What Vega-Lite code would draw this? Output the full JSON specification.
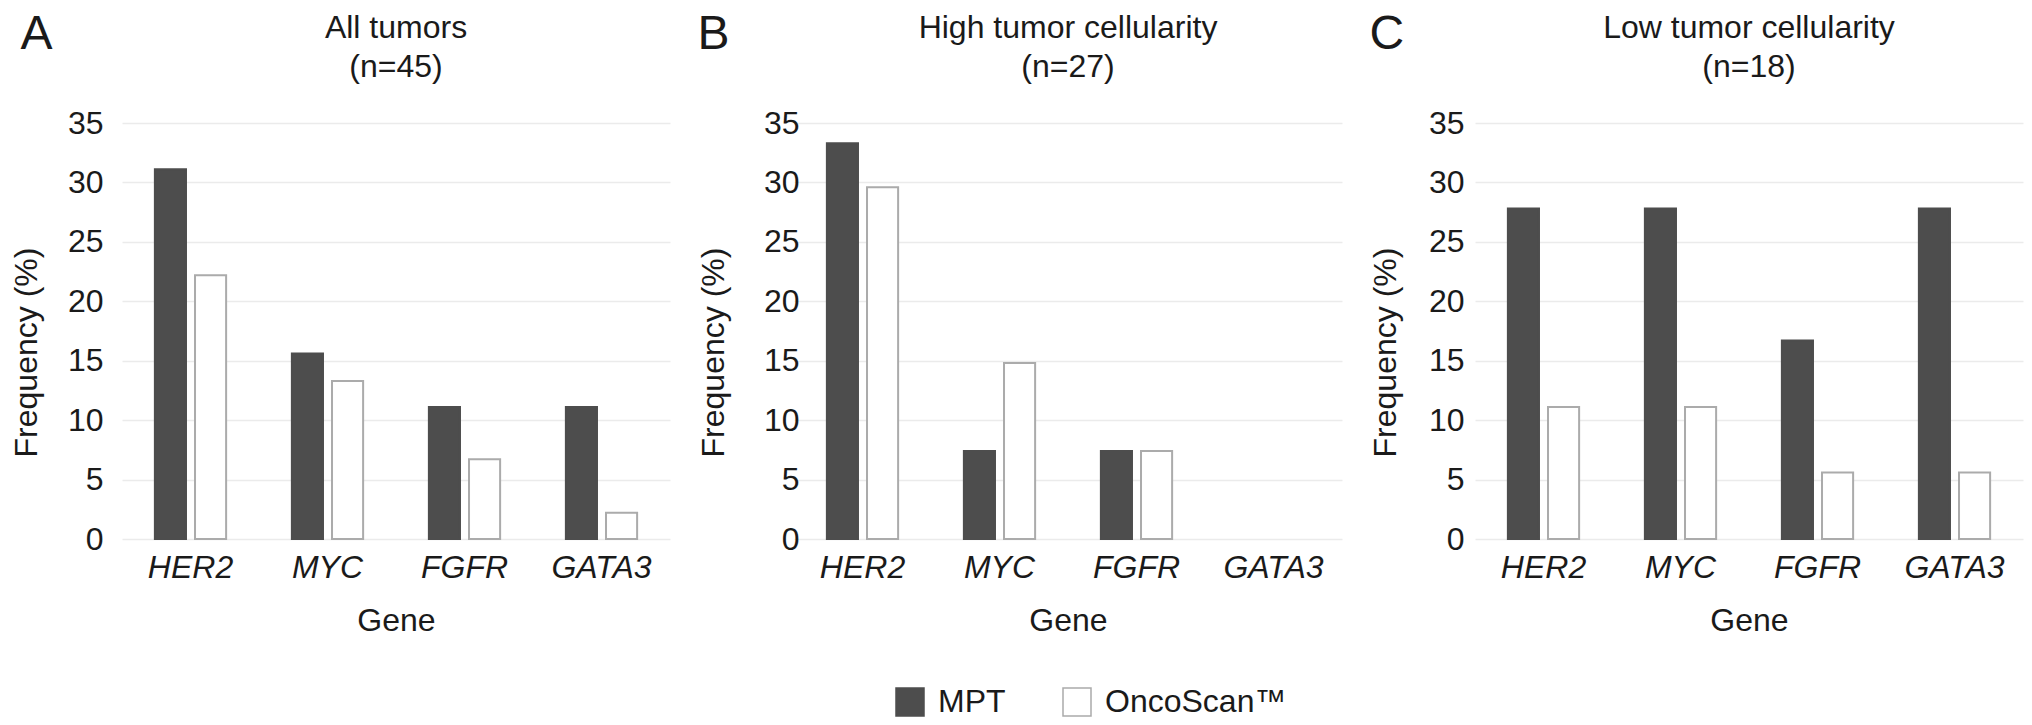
{
  "$schema": "https://vega.github.io/schema/vega-lite/v6.json",
  "background": "white",
  "padding": {"top": 11, "left": 10, "right": 5, "bottom": 5},
  "spacing": 27,
  "config": {
    "font": "Liberation Sans",
    "view": {"stroke": null},
    "axis": {
      "labelFont": "Liberation Sans",
      "titleFont": "Liberation Sans",
      "labelFontSize": 32,
      "titleFontSize": 32,
      "titleFontWeight": "normal",
      "labelColor": "#1a1a1a",
      "titleColor": "#1a1a1a",
      "ticks": false,
      "domain": false
    },
    "axisX": {"grid": false, "labelFontStyle": "italic", "labelAngle": 0, "labelPadding": 13, "titlePadding": 22},
    "axisY": {"gridColor": "#ebebeb", "gridWidth": 1.5, "titleY": 229},
    "title": {"font": "Liberation Sans", "fontWeight": "normal", "color": "#1a1a1a"},
    "legend": {
      "orient": "none",
      "legendX": 772,
      "legendY": 563,
      "direction": "horizontal",
      "title": null,
      "symbolType": "square",
      "symbolSize": 784,
      "symbolStrokeWidth": 1.5,
      "labelFont": "Liberation Sans",
      "labelFontSize": 32,
      "labelColor": "#1a1a1a",
      "labelOffset": 12,
      "labelLimit": 400,
      "columnPadding": 54
    }
  },
  "datasets": {
    "freq": [
      {"panel": "A", "gene": "HER2", "method": "MPT", "freq": 31.1},
      {"panel": "A", "gene": "HER2", "method": "OncoScan™", "freq": 22.2},
      {"panel": "A", "gene": "MYC", "method": "MPT", "freq": 15.6},
      {"panel": "A", "gene": "MYC", "method": "OncoScan™", "freq": 13.3},
      {"panel": "A", "gene": "FGFR", "method": "MPT", "freq": 11.1},
      {"panel": "A", "gene": "FGFR", "method": "OncoScan™", "freq": 6.7},
      {"panel": "A", "gene": "GATA3", "method": "MPT", "freq": 11.1},
      {"panel": "A", "gene": "GATA3", "method": "OncoScan™", "freq": 2.2},
      {"panel": "B", "gene": "HER2", "method": "MPT", "freq": 33.3},
      {"panel": "B", "gene": "HER2", "method": "OncoScan™", "freq": 29.6},
      {"panel": "B", "gene": "MYC", "method": "MPT", "freq": 7.4},
      {"panel": "B", "gene": "MYC", "method": "OncoScan™", "freq": 14.8},
      {"panel": "B", "gene": "FGFR", "method": "MPT", "freq": 7.4},
      {"panel": "B", "gene": "FGFR", "method": "OncoScan™", "freq": 7.4},
      {"panel": "B", "gene": "GATA3", "method": "MPT", "freq": 0},
      {"panel": "B", "gene": "GATA3", "method": "OncoScan™", "freq": 0},
      {"panel": "C", "gene": "HER2", "method": "MPT", "freq": 27.8},
      {"panel": "C", "gene": "HER2", "method": "OncoScan™", "freq": 11.1},
      {"panel": "C", "gene": "MYC", "method": "MPT", "freq": 27.8},
      {"panel": "C", "gene": "MYC", "method": "OncoScan™", "freq": 11.1},
      {"panel": "C", "gene": "FGFR", "method": "MPT", "freq": 16.7},
      {"panel": "C", "gene": "FGFR", "method": "OncoScan™", "freq": 5.6},
      {"panel": "C", "gene": "GATA3", "method": "MPT", "freq": 27.8},
      {"panel": "C", "gene": "GATA3", "method": "OncoScan™", "freq": 5.6}
    ]
  },
  "hconcat": [
    {
      "title": {"text": "A", "anchor": "start", "frame": "bounds", "fontSize": 48, "offset": -47, "dx": 10},
      "vconcat": [
        {
          "title": {"text": ["All tumors", "(n=45)"], "fontSize": 32, "lineHeight": 39, "offset": 23, "anchor": "middle"},
          "width": 548,
          "height": 416,
          "data": {"name": "freq"},
          "transform": [{"filter": "datum.panel === 'A' && datum.freq > 0"}],
          "mark": {"type": "bar", "strokeWidth": 2},
          "encoding": {
            "x": {"field": "gene", "type": "nominal", "sort": ["HER2", "MYC", "FGFR", "GATA3"], "scale": {"domain": ["HER2", "MYC", "FGFR", "GATA3"], "paddingInner": 0.48, "paddingOuter": 0.24}, "axis": {"title": "Gene"}},
            "xOffset": {"field": "method", "type": "nominal", "sort": ["MPT", "OncoScan™"], "scale": {"paddingInner": 0.225, "paddingOuter": 0}},
            "y": {"field": "freq", "type": "quantitative", "scale": {"domain": [0, 35]}, "axis": {"title": "Frequency (%)", "values": [0, 5, 10, 15, 20, 25, 30, 35], "labelPadding": 19, "titlePadding": 24}},
            "fill": {"field": "method", "type": "nominal", "scale": {"domain": ["MPT", "OncoScan™"], "range": ["#4d4d4d", "#ffffff"]}},
            "stroke": {"field": "method", "type": "nominal", "scale": {"domain": ["MPT", "OncoScan™"], "range": ["#4d4d4d", "#ababab"]}}
          }
        }
      ]
    },
    {
      "title": {"text": "B", "anchor": "start", "frame": "bounds", "fontSize": 48, "offset": -47},
      "vconcat": [
        {
          "title": {"text": ["High tumor cellularity", "(n=27)"], "fontSize": 32, "lineHeight": 39, "offset": 23, "anchor": "middle"},
          "width": 548,
          "height": 416,
          "data": {"name": "freq"},
          "transform": [{"filter": "datum.panel === 'B' && datum.freq > 0"}],
          "mark": {"type": "bar", "strokeWidth": 2},
          "encoding": {
            "x": {"field": "gene", "type": "nominal", "sort": ["HER2", "MYC", "FGFR", "GATA3"], "scale": {"domain": ["HER2", "MYC", "FGFR", "GATA3"], "paddingInner": 0.48, "paddingOuter": 0.24}, "axis": {"title": "Gene"}},
            "xOffset": {"field": "method", "type": "nominal", "sort": ["MPT", "OncoScan™"], "scale": {"paddingInner": 0.225, "paddingOuter": 0}},
            "y": {"field": "freq", "type": "quantitative", "scale": {"domain": [0, 35]}, "axis": {"title": "Frequency (%)", "values": [0, 5, 10, 15, 20, 25, 30, 35], "labelPadding": -5, "titlePadding": 33}},
            "fill": {"field": "method", "type": "nominal", "scale": {"domain": ["MPT", "OncoScan™"], "range": ["#4d4d4d", "#ffffff"]}},
            "stroke": {"field": "method", "type": "nominal", "scale": {"domain": ["MPT", "OncoScan™"], "range": ["#4d4d4d", "#ababab"]}}
          }
        }
      ]
    },
    {
      "title": {"text": "C", "anchor": "start", "frame": "bounds", "fontSize": 48, "offset": -47},
      "vconcat": [
        {
          "title": {"text": ["Low tumor cellularity", "(n=18)"], "fontSize": 32, "lineHeight": 39, "offset": 23, "anchor": "middle"},
          "width": 548,
          "height": 416,
          "data": {"name": "freq"},
          "transform": [{"filter": "datum.panel === 'C' && datum.freq > 0"}],
          "mark": {"type": "bar", "strokeWidth": 2},
          "encoding": {
            "x": {"field": "gene", "type": "nominal", "sort": ["HER2", "MYC", "FGFR", "GATA3"], "scale": {"domain": ["HER2", "MYC", "FGFR", "GATA3"], "paddingInner": 0.48, "paddingOuter": 0.24}, "axis": {"title": "Gene"}},
            "xOffset": {"field": "method", "type": "nominal", "sort": ["MPT", "OncoScan™"], "scale": {"paddingInner": 0.225, "paddingOuter": 0}},
            "y": {"field": "freq", "type": "quantitative", "scale": {"domain": [0, 35]}, "axis": {"title": "Frequency (%)", "values": [0, 5, 10, 15, 20, 25, 30, 35], "labelPadding": 11, "titlePadding": 26}},
            "fill": {"field": "method", "type": "nominal", "scale": {"domain": ["MPT", "OncoScan™"], "range": ["#4d4d4d", "#ffffff"]}},
            "stroke": {"field": "method", "type": "nominal", "scale": {"domain": ["MPT", "OncoScan™"], "range": ["#4d4d4d", "#ababab"]}}
          }
        }
      ]
    }
  ]
}
